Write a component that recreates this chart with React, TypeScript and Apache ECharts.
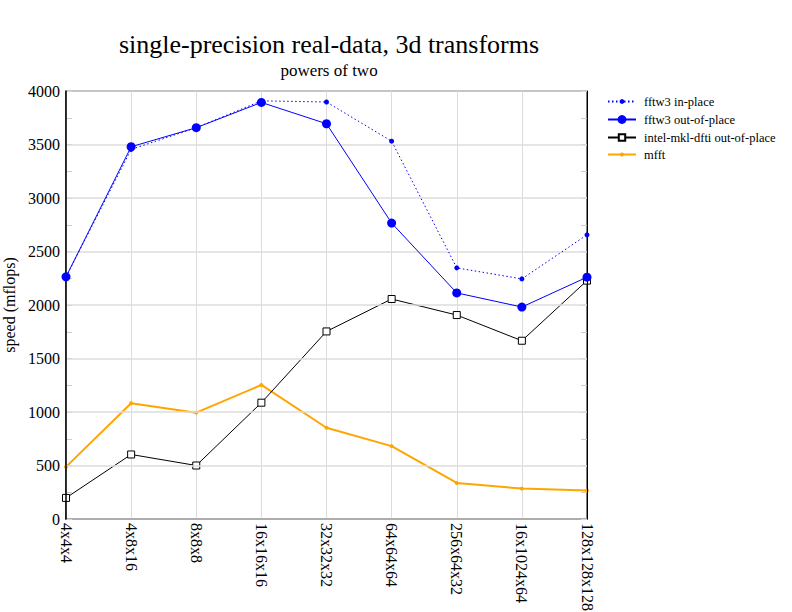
import React, { useEffect, useRef } from "react";
import * as echarts from "echarts";

const categories = ["4x4x4", "4x8x16", "8x8x8", "16x16x16", "32x32x32", "64x64x64", "256x64x32", "16x1024x64", "128x128x128"];
const fftw3InPlace = [2263, 3454, 3657, 3908, 3897, 3531, 2347, 2244, 2656];
const fftw3OutOfPlace = [2263, 3479, 3657, 3893, 3694, 2766, 2113, 1981, 2260];
const intelMkl = [197, 603, 500, 1087, 1753, 2056, 1906, 1666, 2228];
const mfft = [487, 1081, 994, 1253, 853, 681, 337, 284, 266];
const yTicks = { min: 0, max: 4000, interval: 500 };
const yMinorTicks = { min: 0, max: 4000, interval: 250 };
const seriesNames = ["fftw3 in-place", "fftw3 out-of-place", "intel-mkl-dfti out-of-place", "mfft"];

const FONT = "'Liberation Serif', 'Times New Roman', serif";

export default function App() {
  const ref = useRef<HTMLDivElement>(null);
  useEffect(() => {
    const chart = echarts.init(ref.current!, null, { renderer: "svg" });
    const grey = "#dcdcdc";
    const legendSizes = [6, 11, 8, 5];
    const legendTops = [102, 120, 138, 155];
    const tickAxis = (position: "left" | "right") => ({
      type: "value",
      ...yMinorTicks,
      position,
      axisLine: { show: false },
      axisTick: { show: true, inside: true, length: 6, lineStyle: { color: "#cccccc", width: 1 } },
      axisLabel: { show: false },
      splitLine: { show: false },
    });
    chart.setOption({
      animation: false,
      backgroundColor: "#ffffff",
      textStyle: { fontFamily: FONT },
      title: {
        text: "single-precision real-data, 3d transforms",
        subtext: "powers of two",
        left: 324,
        textAlign: "center",
        top: 26,
        itemGap: 5,
        textStyle: { fontFamily: FONT, fontSize: 26, fontWeight: "normal", color: "#000" },
        subtextStyle: { fontFamily: FONT, fontSize: 17, color: "#000" },
      },
      legend: seriesNames.map((n, i) => ({
        orient: "vertical",
        left: 602,
        top: legendTops[i] - 12,
        itemWidth: 28,
        itemHeight: legendSizes[i],
        textStyle: { fontFamily: FONT, fontSize: 12.5, color: "#000", padding: [0, 0, 0, 3] },
        data: [n],
      })),
      grid: {
        left: 66,
        right: 205,
        top: 91,
        bottom: 93,
        show: true,
        borderColor: "#000",
        borderWidth: 1,
        containLabel: false,
        outerBoundsMode: "none",
      },
      xAxis: {
        type: "category",
        data: categories,
        boundaryGap: false,
        axisLine: { lineStyle: { color: "#000", width: 1.5 } },
        axisTick: { show: false },
        axisLabel: { rotate: -90, fontFamily: FONT, fontSize: 16, color: "#000", margin: 4 },
        splitLine: { show: true, lineStyle: { color: grey, width: 1 } },
      },
      yAxis: [
        {
          type: "value",
          ...yTicks,
          name: "speed (mflops)",
          nameLocation: "middle",
          nameGap: 41,
          nameTextStyle: { fontFamily: FONT, fontSize: 16, color: "#000" },
          axisLine: { show: true, lineStyle: { color: "#000", width: 1.5 } },
          axisTick: { show: false },
          axisLabel: {
            fontFamily: FONT,
            fontSize: 16,
            color: "#000",
            margin: 6,
            formatter: (v: number) => String(v),
          },
          splitLine: { show: true, lineStyle: { color: grey, width: 1.5 } },
          z: 3,
        },
        {
          type: "value",
          ...yTicks,
          position: "right",
          axisLine: { show: true, lineStyle: { color: "#000", width: 1 } },
          axisTick: { show: false },
          axisLabel: { show: false },
          splitLine: { show: false },
          z: 3,
        },
        tickAxis("left"),
        tickAxis("right"),
      ],
      series: [
        {
          name: seriesNames[0],
          type: "line",
          data: fftw3InPlace,
          symbol: "circle",
          symbolSize: 5,
          itemStyle: { color: "#0000ff" },
          lineStyle: { color: "#0000ff", width: 1, type: [1.5, 2.5] },
          z: 3,
        },
        {
          name: seriesNames[1],
          type: "line",
          data: fftw3OutOfPlace,
          symbol: "circle",
          symbolSize: 9,
          itemStyle: { color: "#0000ff" },
          lineStyle: { color: "#0000ff", width: 1 },
          z: 4,
        },
        {
          name: seriesNames[2],
          type: "line",
          data: intelMkl,
          symbol: "rect",
          symbolSize: 7,
          itemStyle: { color: "#ffffff", borderColor: "#000", borderWidth: 1 },
          lineStyle: { color: "#000", width: 1 },
          z: 2,
        },
        {
          name: seriesNames[3],
          type: "line",
          data: mfft,
          symbol: "circle",
          symbolSize: 4,
          itemStyle: { color: "#ffa500" },
          lineStyle: { color: "#ffa500", width: 2 },
          z: 1,
        },
      ],
    });
    return () => chart.dispose();
  }, []);
  return (
    <div
      ref={ref}
      style={{ position: "absolute", left: 0, top: 0, width: 792, height: 612, background: "#fff" }}
    />
  );
}
